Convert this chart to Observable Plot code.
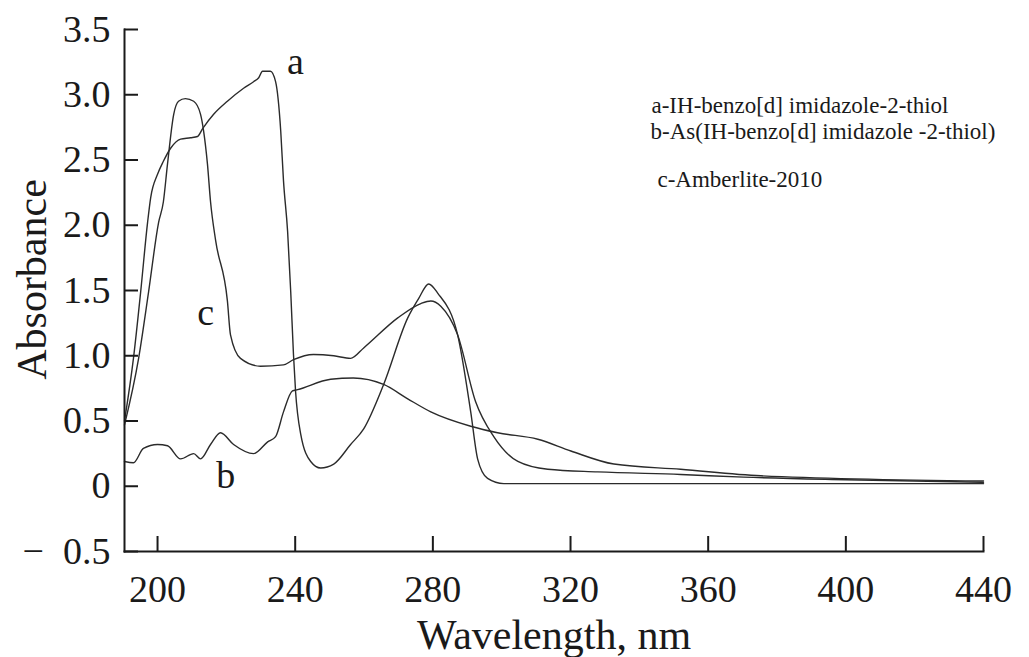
<!DOCTYPE html>
<html>
<head>
<meta charset="utf-8">
<script src="https://cdn.jsdelivr.net/npm/d3@7"></script>
<script src="https://cdn.jsdelivr.net/npm/@observablehq/plot@0.6"></script>
<style>
  html, body { margin: 0; padding: 0; background: #fff; }
  #chart svg { display: block; }
  #chart svg text { font-family: 'Liberation Serif', 'Times New Roman', Times, serif; }
</style>
</head>
<body>
<div id="chart"></div>
<script>
// ---- Data ----
const seriesNames = ["a", "b", "c"];

const wavelengthA = [190.4,193.0,195.1,197.1,198.0,200.0,201.7,203.8,206.7,209.6,211.6,213.1,216.3,220.3,225.0,227.9,229.4,230.5,232.8,234.3,235.8,236.6,237.8,238.7,239.5,240.1,241.6,244.5,247.4,251.2,256.1,259.9,265.7,272.7,275.9,278.8,281.4,287.2,291.0,293.0,295.9,300.6,320,360,400,440];
const absorbanceA = [0.50,0.98,1.49,2.02,2.21,2.39,2.49,2.59,2.66,2.67,2.68,2.74,2.85,2.95,3.05,3.10,3.13,3.18,3.18,3.10,2.72,2.34,1.95,1.49,1.01,0.73,0.40,0.19,0.14,0.17,0.32,0.44,0.78,1.29,1.44,1.55,1.48,1.16,0.57,0.21,0.06,0.02,0.02,0.02,0.02,0.02];

const wavelengthB = [190.4,193.0,195.9,200.0,202.9,206.7,210.5,212.5,215.4,218.3,222.1,227.9,232.0,234.3,236.6,239.2,240.7,250.3,256.9,265.7,272.7,279.4,291.0,298.8,310.5,320.1,332.6,352.0,375.3,440];
const absorbanceB = [0.19,0.18,0.29,0.32,0.31,0.21,0.25,0.21,0.32,0.41,0.32,0.25,0.34,0.38,0.57,0.73,0.74,0.82,0.83,0.78,0.67,0.57,0.46,0.41,0.36,0.27,0.17,0.13,0.08,0.04];

const wavelengthC = [190.4,194.5,197.4,200.3,201.7,202.9,204.7,206.1,208.1,210.5,212.5,213.4,214.5,215.4,216.9,220.3,221.2,224.1,229.9,236.6,239.5,245.3,251.2,256.1,259.9,269.8,276.5,279.4,282.3,287.2,292.4,297.7,304.7,313.4,327.9,352.0,370.3,400,440];
const absorbanceC = [0.47,0.98,1.49,2.02,2.18,2.47,2.85,2.95,2.97,2.95,2.85,2.72,2.47,2.18,1.88,1.42,1.16,0.98,0.92,0.93,0.97,1.01,1.00,0.98,1.06,1.29,1.40,1.42,1.38,1.16,0.65,0.38,0.19,0.13,0.11,0.09,0.07,0.05,0.03];

const xTicks = [200, 240, 280, 320, 360, 400, 440];
const yTicks = [-0.5, 0, 0.5, 1.0, 1.5, 2.0, 2.5, 3.0, 3.5];

const legendLines = [
  "a-IH-benzo[d] imidazole-2-thiol",
  "b-As(IH-benzo[d] imidazole -2-thiol)",
  "c-Amberlite-2010"
];
const xTitle = "Wavelength, nm";
const yTitle = "Absorbance";

// annotation anchor points for the curve letters (data coordinates)
const curveLabelWl = [240.1, 219.8, 214.0];
const curveLabelAbs = [3.25, 0.08, 1.33];

// ---- Build tables ----
const seriesData = {
  a: [wavelengthA, absorbanceA],
  b: [wavelengthB, absorbanceB],
  c: [wavelengthC, absorbanceC]
};
const rows = seriesNames.flatMap(s => seriesData[s][0].map((w, i) => ({series: s, wl: w, abs: seriesData[s][1][i]})));
const curveLabels = seriesNames.map((s, i) => ({label: s, wl: curveLabelWl[i], abs: curveLabelAbs[i]}));

const fmtY = d => d === 0 ? "0" : (d < 0 ? "\u2212\u2002" : "") + Math.abs(d).toFixed(1);

const serif = "'Liberation Serif', 'Times New Roman', Times, serif";
const ink = "#1a1a1a";

const legendDx = [527, 526, 533];
const legendDy = [76, 102, 150];

const chart = Plot.plot({
  width: 1029,
  height: 657,
  marginLeft: 124,
  marginRight: 46,
  marginTop: 29,
  marginBottom: 106,
  style: {fontFamily: serif, background: "#ffffff", color: ink, overflow: "visible"},
  x: {domain: [190.4, 440], ticks: xTicks},
  y: {domain: [-0.5, 3.5], ticks: yTicks},
  marks: [
    Plot.line(rows, {x: "wl", y: "abs", z: "series", stroke: "#2b2b2b", strokeWidth: 1.4, curve: "monotone-x"}),
    Plot.frame({anchor: "left", stroke: ink, strokeWidth: 2}),
    Plot.frame({anchor: "bottom", stroke: ink, strokeWidth: 2}),
    Plot.axisX({ticks: xTicks, tickSize: -15, tickPadding: 39, fontSize: 38, fontFamily: serif, label: null, stroke: ink, strokeWidth: 2, fill: ink}),
    Plot.axisY({ticks: yTicks, tickSize: -14, tickPadding: 28, fontSize: 38, fontFamily: serif, label: null, tickFormat: fmtY, stroke: ink, strokeWidth: 2, fill: ink}),
    Plot.text([yTitle], {frameAnchor: "left", textAnchor: "middle", lineAnchor: "middle", rotate: -90, dx: -92, dy: -11, fontSize: 42, fontFamily: serif, fill: ink}),
    Plot.text([xTitle], {frameAnchor: "bottom", textAnchor: "middle", lineAnchor: "middle", dy: 84, fontSize: 42, fontFamily: serif, fill: ink}),
    Plot.text(curveLabels, {x: "wl", y: "abs", text: "label", fontSize: 38, fontFamily: serif, fill: ink}),
    ...legendLines.map((t, i) => Plot.text([t], {frameAnchor: "top-left", textAnchor: "start", lineAnchor: "middle", dx: legendDx[i], dy: legendDy[i], fontSize: 23, fontFamily: serif, fill: ink}))
  ]
});

document.getElementById("chart").appendChild(chart);
</script>
</body>
</html>
